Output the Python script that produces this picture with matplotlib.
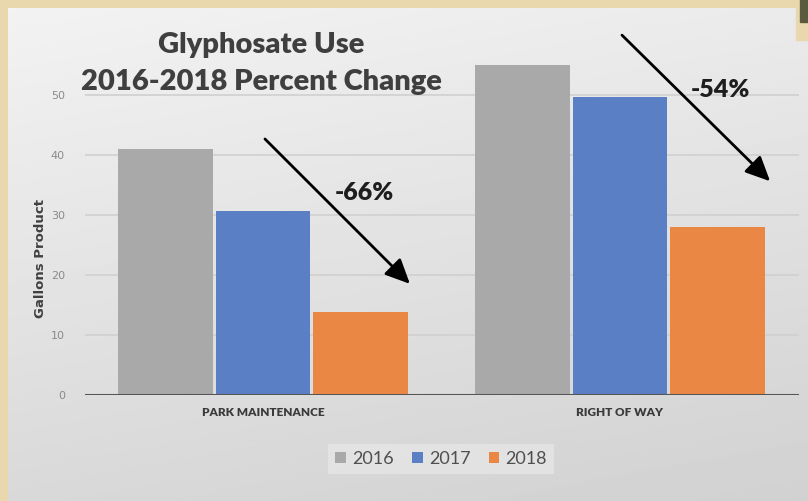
import numpy as np
import matplotlib.pyplot as plt

# data
categories = ['PARK MAINTENANCE', 'RIGHT OF WAY']
years = ['2016', '2017', '2018']
gallons_2016 = [41, 55]
gallons_2017 = [30.7, 49.7]
gallons_2018 = [13.8, 28]
pct_labels = ['-66%', '-54%']

colors = ['#a9a9a9', '#5a7fc4', '#eb8744']

W, H = 808, 501
fig = plt.figure(figsize=(W / 100, H / 100), dpi=100)
fig.patch.set_facecolor('#e9d8ad')

# gray slide background with a soft gradient
bg = fig.add_axes([8 / W, 0, (W - 8) / W, (H - 8) / H])
gy, gx = np.mgrid[0:1:200j, 0:1:200j]
shade = 0.95 - 0.10 * gy - 0.03 * gx
bg.imshow(shade, cmap='gray', vmin=0, vmax=1, aspect='auto', extent=[0, 1, 0, 1], origin='upper')
bg.axis('off')
# beige strip at top-right corner
fig.patches.append(plt.Rectangle((796 / W, (H - 40) / H), 12 / W, 40 / H,
                                 transform=fig.transFigure, color='#e9d8ad', zorder=1))
fig.patches.append(plt.Rectangle((800 / W, (H - 22) / H), 8 / W, 22 / H,
                                 transform=fig.transFigure, color='#5b5a3c', zorder=1))

ax = fig.add_axes([84.5 / W, (H - 395) / H, 714 / W, 360 / H])
ax.patch.set_alpha(0)

x = np.arange(len(categories))
step = 0.274
width = 0.266
for i, (vals, yr) in enumerate(zip([gallons_2016, gallons_2017, gallons_2018], years)):
    ax.bar(x + (i - 1) * step, vals, width, color=colors[i], label=yr, zorder=3)

ax.set_xlim(-0.5, 1.5)
ax.set_ylim(0, 60)
ax.set_yticks([0, 10, 20, 30, 40, 50])
ax.yaxis.grid(True, color='#d2d0ce', lw=1.2, zorder=0)
ax.axhline(0, color='#555555', lw=2.2, zorder=4)
for s in ax.spines.values():
    s.set_visible(False)
ax.tick_params(axis='y', length=0, pad=14, labelsize=8, labelcolor='#8a8a8a')
ax.tick_params(axis='x', length=0, pad=9)
ax.set_xticks(x)
ax.set_xticklabels(categories, fontsize=8.5, fontweight='heavy', color='#3a3a3a', family='Lato')
ax.set_ylabel('Gallons Product', fontsize=9.5, fontweight='bold', color='#404040')
ax.yaxis.set_label_coords(-0.052, 0.38)

# arrows and percent labels
arrows = [((0.0, 43), (0.417, 18.2)), ((1.0, 60.3), (1.426, 35.3))]
label_pos = [(0.285, 33.7), (1.282, 50.8)]
for (start, end), txt, lp in zip(arrows, pct_labels, label_pos):
    ax.annotate('', xy=end, xytext=start,
                arrowprops=dict(arrowstyle='-|>,head_length=1.5,head_width=0.7', color='black', lw=2),
                annotation_clip=False, zorder=6)
    ax.text(lp[0], lp[1], txt, fontsize=18, fontweight='heavy', color='#1e1e1e',
            ha='center', va='center', family='Lato', zorder=6)

fig.text(261 / W, 1 - 45 / H, 'Glyphosate Use', fontsize=21, fontweight='heavy',
         color='#3f3f3f', ha='center', va='center', family='Lato')
fig.text(261 / W, 1 - 82 / H, '2016-2018 Percent Change', fontsize=21, fontweight='heavy',
         color='#3f3f3f', ha='center', va='center', family='Lato')

leg = ax.legend(loc='center', bbox_to_anchor=(441 / W, 1 - 459 / H), bbox_transform=fig.transFigure,
                ncol=3, frameon=True, fancybox=False, handlelength=0.6, handleheight=0.6,
                handletextpad=0.35, columnspacing=1.0, prop={'family': 'Lato', 'size': 13})
leg.get_frame().set_facecolor('#e6e6e6')
leg.get_frame().set_edgecolor('none')
for t in leg.get_texts():
    t.set_color('#4f4f4f')

fig.savefig('out.png', dpi=100)
